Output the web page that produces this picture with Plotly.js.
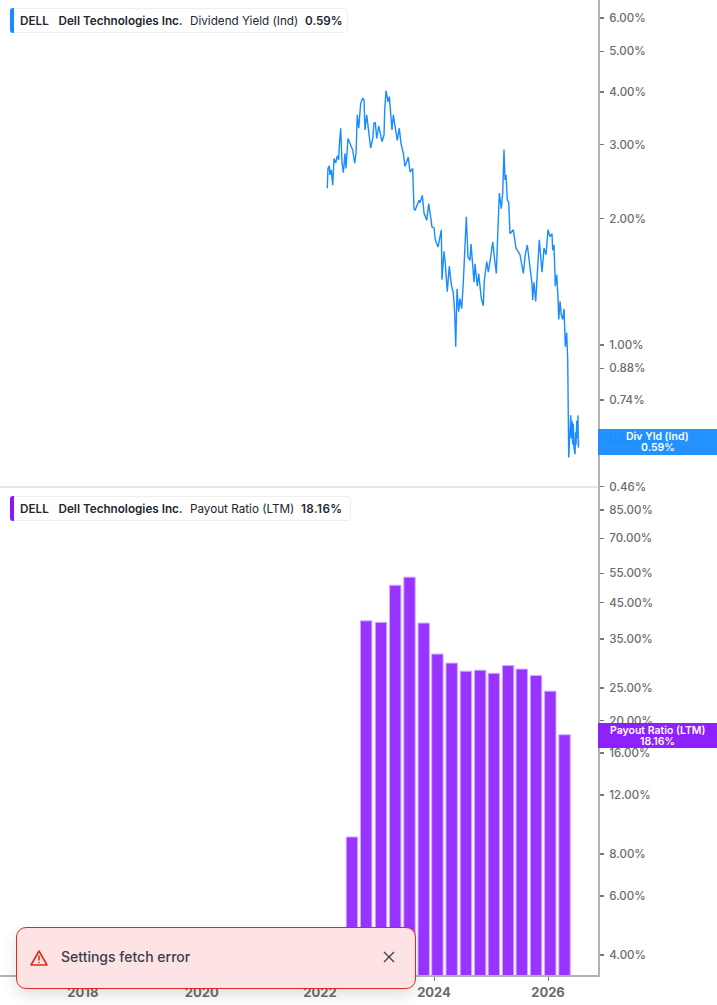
<!DOCTYPE html>
<html>
<head>
<meta charset="utf-8">
<script src="https://cdn.plot.ly/plotly-3.0.1.min.js"></script>
<style>
	html, body { margin: 0; padding: 0; background: #fff; overflow: hidden; }
	body { width: 717px; height: 1005px; position: relative; font-family: Inter, sans-serif; }
	#graph { position: absolute; left: 0; top: 0; width: 717px; height: 1005px; }
	.legend { position: absolute; left: 10px; height: 25px; box-sizing: border-box; background: #fff;
		border: 1px solid #eeeeee; border-radius: 4px; font-size: 11.7px; color: #23262f; }
	.legend i { position: absolute; left: -1px; top: -1px; bottom: -1px; width: 4px; border-radius: 3px 0 0 3px; }
	.legend span { position: absolute; top: 4px; white-space: nowrap; line-height: 16px; }
	.legend b { font-weight: 600; }
	#toast { position: absolute; left: 16px; top: 927px; width: 400px; height: 62px; box-sizing: border-box;
		background: #fde3e3; border: 1px solid #dc2c20; border-radius: 10px;
		box-shadow: 0 6px 14px rgba(60, 60, 70, 0.16); color: #3a3f4b; font-size: 14px; font-weight: 500; }
	#toast span { position: absolute; left: 44px; top: 20px; line-height: 18px; }
	#toast svg { position: absolute; }
</style>
</head>
<body>
<div id="graph"></div>

<div class="legend" style="top:8px;width:338px">
	<i style="background:#1a8cff"></i>
	<span style="left:9px"><b>DELL</b></span>
	<span style="left:47.5px"><b>Dell Technologies Inc.</b></span>
	<span style="left:179px">Dividend Yield (Ind)</span>
	<span style="left:294px"><b>0.59%</b></span>
</div>
<div class="legend" style="top:496px;width:341px">
	<i style="background:#8a17ff"></i>
	<span style="left:9px"><b>DELL</b></span>
	<span style="left:47.5px"><b>Dell Technologies Inc.</b></span>
	<span style="left:179px">Payout Ratio (LTM)</span>
	<span style="left:290px;letter-spacing:0.4px"><b>18.16%</b></span>
</div>

<div id="toast">
	<svg style="left:13px;top:21px" width="18" height="18" viewBox="0 0 18 18" fill="none" stroke="#dc2c20" stroke-width="1.6" stroke-linejoin="round" stroke-linecap="round">
		<path d="M9 2 L17 16 L1 16 Z"/><path d="M9 7 V11"/><path d="M9 13.5 V13.6"/>
	</svg>
	<span>Settings fetch error</span>
	<svg style="left:365px;top:22px" width="14" height="14" viewBox="0 0 14 14" fill="none" stroke="#3a3f4b" stroke-width="1.3">
		<path d="M2 2 L12 12 M12 2 L2 12"/>
	</svg>
</div>

<script>
//DATA
const yieldYears = [
	2022.128, 2022.14, 2022.163, 2022.175, 2022.198, 2022.223, 2022.246, 2022.275, 2022.304, 2022.328,
	2022.339, 2022.363, 2022.386, 2022.409, 2022.439, 2022.456, 2022.491, 2022.539, 2022.574, 2022.609,
	2022.632, 2022.654, 2022.679, 2022.714, 2022.749, 2022.772, 2022.789, 2022.819, 2022.854, 2022.889,
	2022.925, 2022.947, 2022.97, 2022.995, 2023.03, 2023.065, 2023.088, 2023.123, 2023.135, 2023.158,
	2023.193, 2023.216, 2023.24, 2023.263, 2023.286, 2023.316, 2023.356, 2023.391, 2023.421, 2023.461,
	2023.491, 2023.549, 2023.579, 2023.626, 2023.649, 2023.667, 2023.702, 2023.737, 2023.754, 2023.795,
	2023.825, 2023.872, 2023.907,
	2023.942, 2023.965, 2024.0, 2024.023, 2024.07, 2024.105, 2024.128, 2024.135, 2024.14, 2024.175,
	2024.198, 2024.233, 2024.268, 2024.304, 2024.339, 2024.363, 2024.381, 2024.404, 2024.433, 2024.456,
	2024.486, 2024.514, 2024.539, 2024.567, 2024.596, 2024.632, 2024.649, 2024.679, 2024.702, 2024.719,
	2024.76, 2024.784, 2024.83, 2024.865, 2024.882, 2024.925, 2024.953, 2024.995, 2025.03, 2025.065,
	2025.093, 2025.123, 2025.146, 2025.181, 2025.205, 2025.228, 2025.246, 2025.263, 2025.286, 2025.311,
	2025.333, 2025.391, 2025.439, 2025.509, 2025.539, 2025.567, 2025.602, 2025.637, 2025.672, 2025.719,
	2025.731, 2025.754, 2025.784, 2025.812, 2025.847, 2025.895, 2025.93, 2025.965, 2026.0, 2026.035,
	2026.07, 2026.082, 2026.105, 2026.128, 2026.153, 2026.175, 2026.188, 2026.211, 2026.233, 2026.258,
	2026.281, 2026.304, 2026.328, 2026.346, 2026.35, 2026.363, 2026.398, 2026.41, 2026.421, 2026.432,
	2026.444, 2026.455, 2026.474, 2026.483, 2026.493, 2026.504, 2026.515, 2026.526, 2026.532, 2026.538
];
const yieldValues = [
	2.36, 2.63, 2.67, 2.54, 2.61, 2.40, 2.78, 2.71, 2.82, 2.76,
	2.99, 3.28, 2.71, 2.57, 2.86, 2.63, 3.10, 2.99, 2.91, 2.71,
	2.86, 3.53, 3.28, 3.76, 3.87, 3.83, 3.25, 3.53, 3.19, 2.94,
	3.10, 3.37, 3.39, 3.10, 3.32, 3.16, 3.05, 3.16, 3.62, 4.03,
	3.79, 3.90, 3.59, 3.25, 3.53, 3.31, 3.07, 3.28, 3.02, 2.86,
	2.66, 2.80, 2.58, 2.63, 2.11, 2.09, 2.15, 2.21, 2.18, 2.27,
	2.06, 1.98, 2.17,
	2.02, 1.91, 1.90, 1.78, 1.71, 1.81, 1.88, 1.59, 1.43, 1.67,
	1.56, 1.34, 1.54, 1.39, 1.33, 1.19, 0.99, 1.36, 1.20, 1.29,
	1.22, 1.41, 1.62, 2.02, 1.62, 1.59, 1.74, 1.54, 1.41, 1.56,
	1.38, 1.48, 1.29, 1.24, 1.42, 1.58, 1.49, 1.62, 1.76, 1.59,
	1.48, 1.91, 2.30, 2.11, 2.30, 2.92, 2.47, 2.54, 2.21, 2.19,
	1.84, 1.88, 1.70, 1.64, 1.56, 1.48, 1.64, 1.73, 1.58, 1.40,
	1.28, 1.41, 1.27, 1.51, 1.78, 1.49, 1.70, 1.64, 1.88, 1.81,
	1.84, 1.68, 1.73, 1.38, 1.47, 1.30, 1.15, 1.27, 1.18, 1.15,
	1.22, 0.99, 1.07, 0.92, 0.81, 0.54, 0.68, 0.60, 0.66, 0.58,
	0.65, 0.57, 0.55, 0.62, 0.58, 0.66, 0.60, 0.68, 0.57, 0.59
];

const payoutYears = [
	2022.56, 2022.81, 2023.07, 2023.32, 2023.57, 2023.82, 2024.06, 2024.31,
	2024.56, 2024.81, 2025.05, 2025.30, 2025.54, 2025.79, 2026.04, 2026.29
];
const payoutValues = [
	9.0, 39.7, 39.3, 50.7, 53.6, 39.1, 31.6, 29.7,
	28.1, 28.3, 27.7, 29.2, 28.5, 27.3, 24.5, 18.16
];

const xTickVals = [2017.84, 2019.925, 2022, 2024, 2026];
const xTickText = ['2018', '2020', '2022', '2024', '2026'];
const yieldTicks = [6, 5, 4, 3, 2, 1, 0.88, 0.74, 0.6, 0.46];
const payoutTicks = [85, 70, 55, 45, 35, 25, 20, 16, 12, 8, 6, 4];

//HELPER FUNCTIONS
function pct(list){
	return list.map(v => v.toFixed(2) + '%');
}

function valueAxis(domain, range, ticks){
	return {
		type: 'log', domain: domain, range: range, side: 'right', anchor: 'x',
		tickmode: 'array', tickvals: ticks, ticktext: pct(ticks),
		ticks: 'outside', ticklen: 4, tickwidth: 1.5, tickcolor: '#777777',
		showline: true, linecolor: '#b3b3b3', linewidth: 2,
		showgrid: false, zeroline: false,
		tickfont: {family: 'Inter, sans-serif', size: 11.5, color: '#6b6b6b', weight: 500},
		ticklabelstandoff: 3
	};
}

function tag(y0, y1, color){
	return {
		type: 'rect', xref: 'paper', yref: 'paper', layer: 'above',
		x0: 598 / 717, x1: 1, y0: 1 - y1 / 1005, y1: 1 - y0 / 1005,
		fillcolor: color, opacity: 0.96, line: {width: 0}
	};
}

function tagText(y, text){
	return {
		xref: 'paper', yref: 'paper', x: 657.5 / 717, y: 1 - y / 1005, text: text,
		showarrow: false, xanchor: 'center', yanchor: 'middle', align: 'center',
		font: {family: 'Inter, sans-serif', size: 10.5, color: '#ffffff', weight: 600}
	};
}

//MAIN
const traces = [
	{
		x: yieldYears, y: yieldValues, xaxis: 'x', yaxis: 'y',
		type: 'scatter', mode: 'lines',
		line: {color: '#1a8cff', width: 1.4},
		hoverinfo: 'skip'
	},
	{
		x: payoutYears, y: payoutValues, xaxis: 'x', yaxis: 'y2',
		type: 'bar', width: 0.2,
		marker: {color: '#9933ff', line: {color: '#d0aaff', width: 1}},
		hoverinfo: 'skip'
	}
];

const layout = {
	width: 717, height: 1005,
	margin: {l: 0, r: 0, t: 0, b: 0},
	paper_bgcolor: '#ffffff', plot_bgcolor: '#ffffff',
	showlegend: false,
	xaxis: {
		type: 'linear', domain: [0, 598 / 717], range: [2016.386, 2026.877], anchor: 'y2',
		tickmode: 'array', tickvals: xTickVals, ticktext: xTickText,
		ticks: 'outside', ticklen: 4, tickwidth: 1, tickcolor: '#777777',
		showline: true, linecolor: '#b3b3b3', linewidth: 2,
		showgrid: false, zeroline: false,
		tickfont: {family: 'Inter, sans-serif', size: 13, color: '#6b6b6b', weight: 700}
	},
	yaxis: valueAxis([518 / 1005, 1], [-0.3379, 0.821], yieldTicks),
	yaxis2: valueAxis([30 / 1005, 518 / 1005], [0.5426, 1.998], payoutTicks),
	shapes: [
		{
			type: 'line', xref: 'paper', yref: 'paper',
			x0: 0, x1: 598 / 717, y0: 518 / 1005, y1: 518 / 1005,
			line: {color: '#dedede', width: 1.5}
		},
		tag(429, 455, '#1a8cff'),
		tag(723, 748, '#8a17ff')
	],
	annotations: [
		tagText(436.5, 'Div Yld (Ind)'),
		tagText(447.5, '0.59%'),
		tagText(730, 'Payout Ratio (LTM)'),
		tagText(741, '18.16%')
	]
};

Plotly.newPlot('graph', traces, layout, {displayModeBar: false, staticPlot: true});
</script>
</body>
</html>
